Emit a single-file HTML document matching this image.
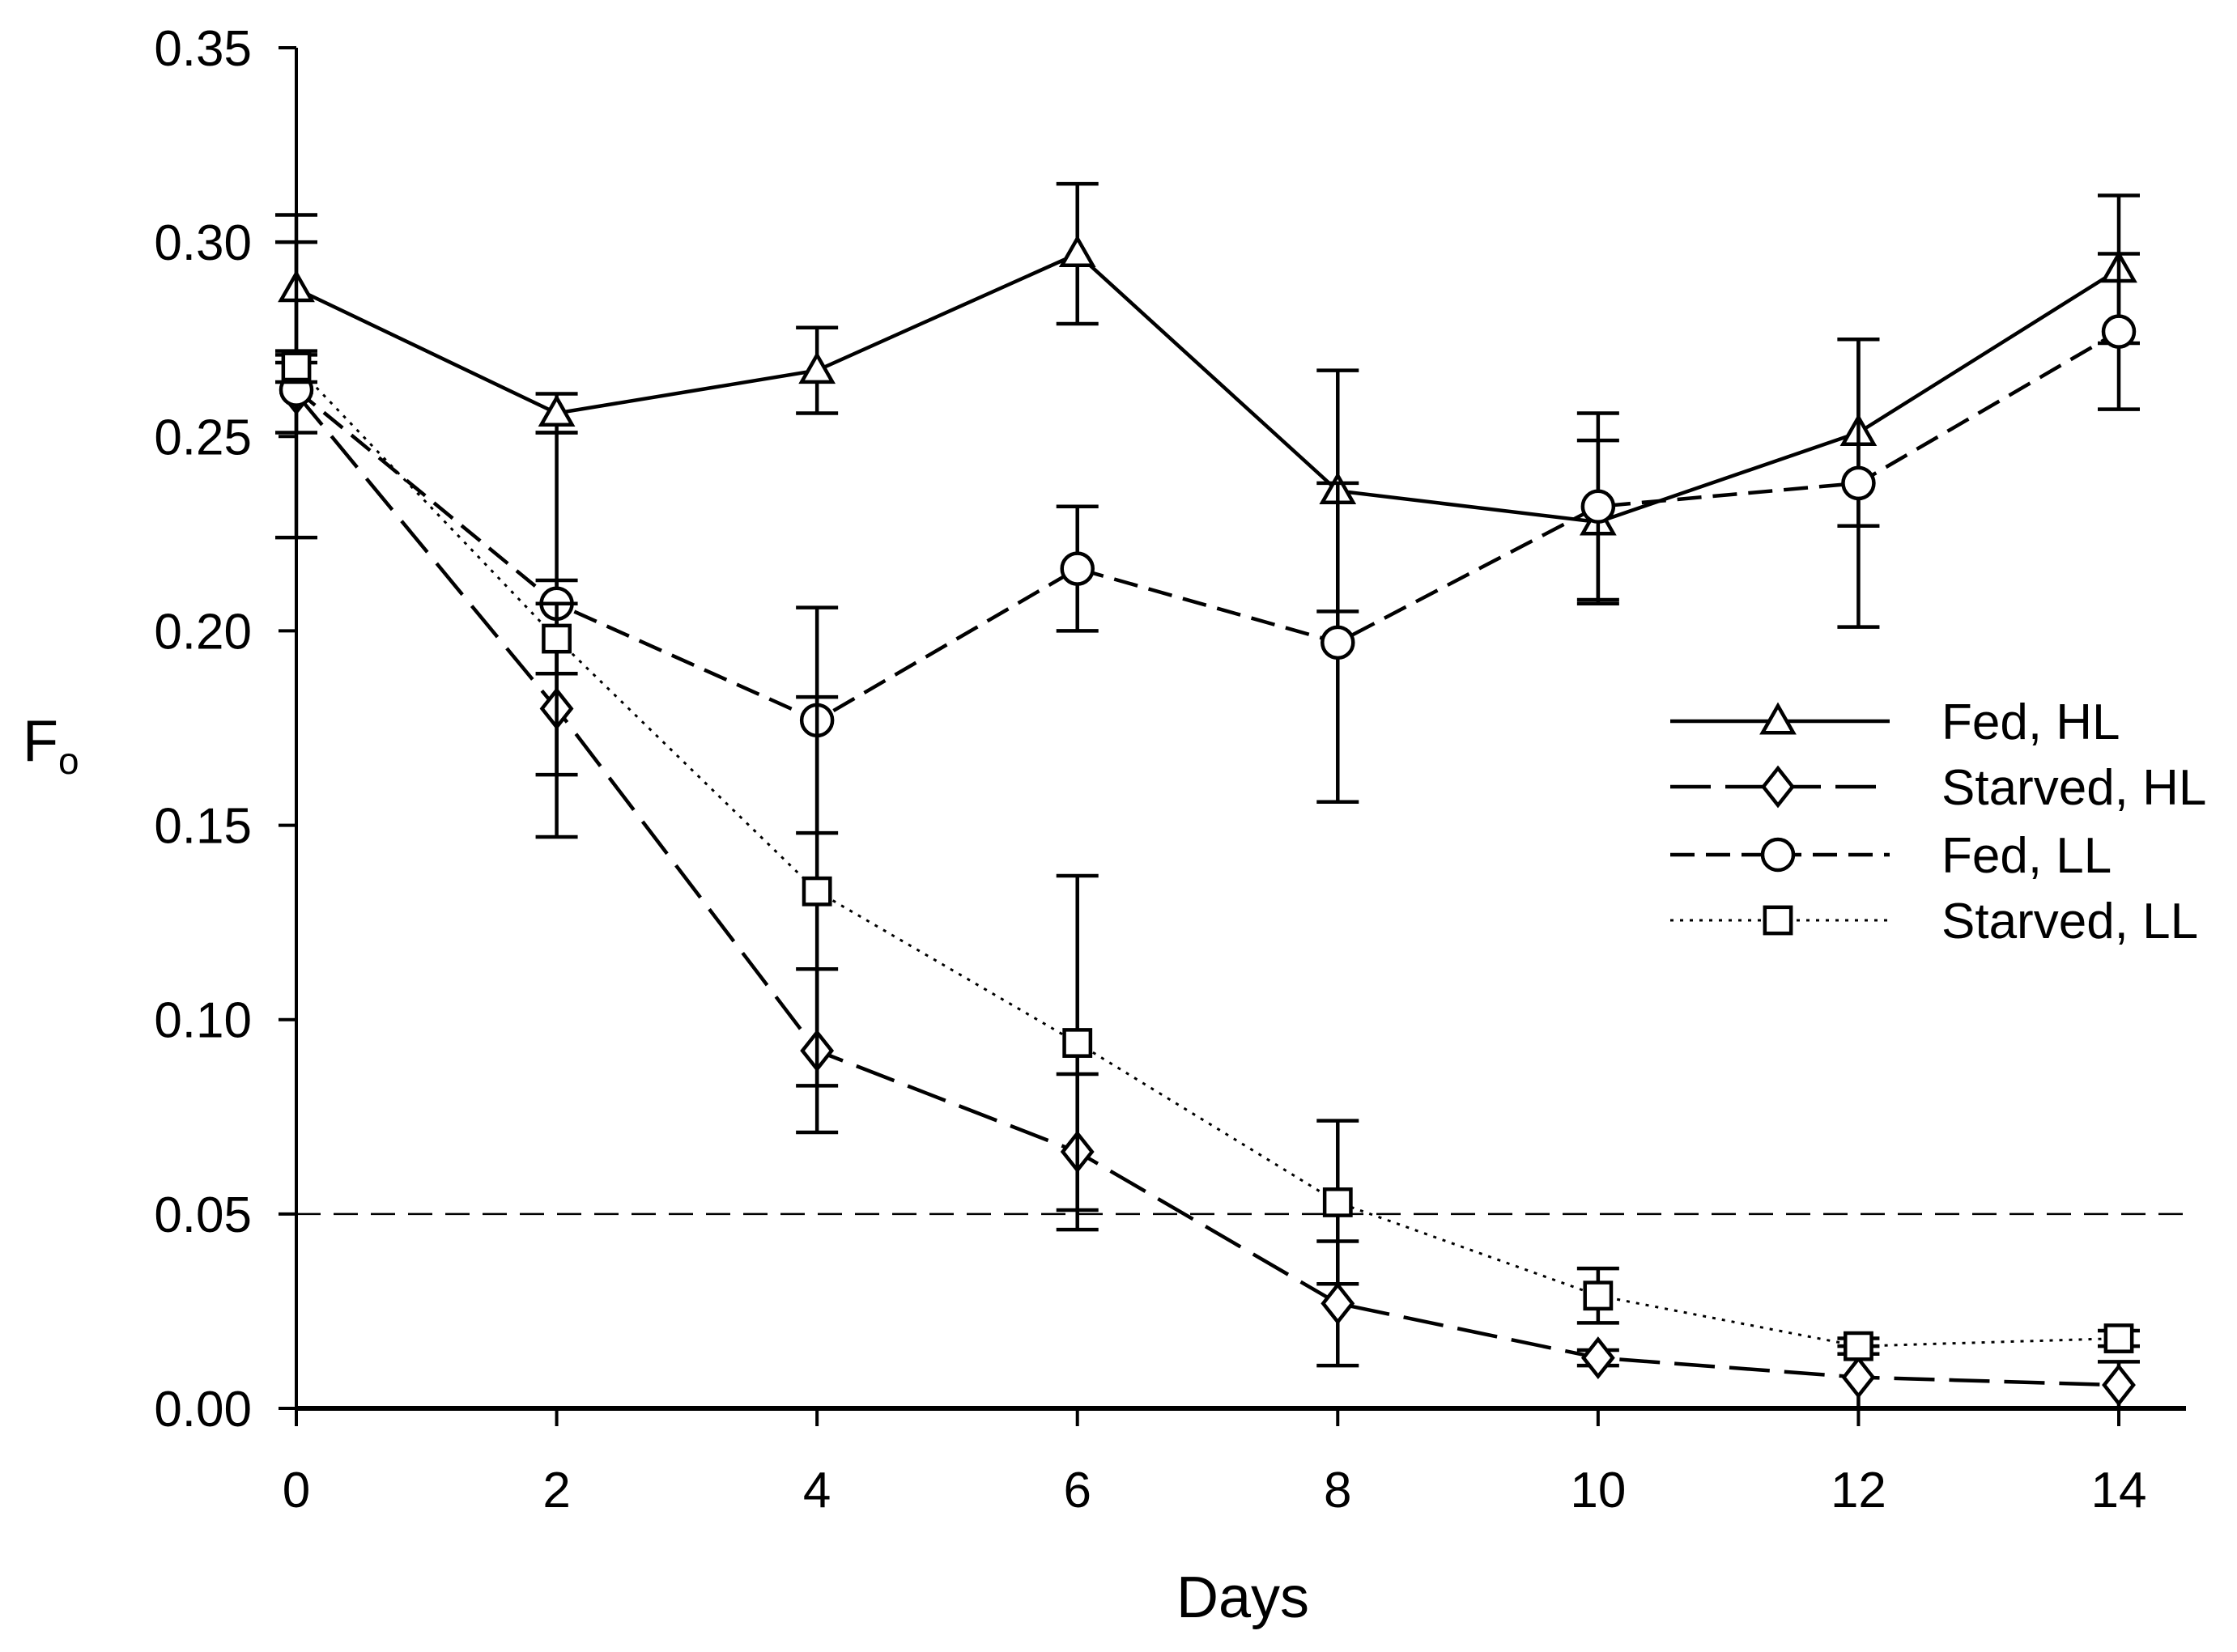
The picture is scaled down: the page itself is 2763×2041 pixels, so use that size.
<!DOCTYPE html>
<html><head><meta charset="utf-8"><style>
html,body{margin:0;padding:0;background:#fff;}
svg{display:block;font-family:"Liberation Sans",Arial,sans-serif;}
</style></head><body>
<svg id="chart" width="2763" height="2041" viewBox="0 0 2763 2041" xmlns="http://www.w3.org/2000/svg">
<g id="axes"></g>
<g id="series"></g>
<g id="legend"></g>
</svg>
<script>
const days = [0,2,4,6,8,10,12,14];
const xTicks = [0,2,4,6,8,10,12,14];
const yTicks = [0,0.05,0.10,0.15,0.20,0.25,0.30,0.35];
const yTickLabels = ["0.00","0.05","0.10","0.15","0.20","0.25","0.30","0.35"];
const fedHL = [0.288,0.256,0.267,0.297,0.236,0.228,0.251,0.293];
const fedHLErr = [0.019,0.005,0.011,0.018,0.031,0.021,0.024,0.019];
const starvedHL = [0.261,0.180,0.092,0.066,0.027,0.013,0.008,0.006];
const starvedHLErr = [0.010,0.033,0.021,0.020,0.016,0.002,0.008,0.006];
const fedLL = [0.262,0.207,0.177,0.216,0.197,0.232,0.238,0.277];
const fedLLErr = [0.038,0.044,0.029,0.016,0.041,0.024,0.037,0.020];
const starvedLL = [0.268,0.198,0.133,0.094,0.053,0.029,0.016,0.018];
const starvedLLErr = [0.004,0.009,0.050,0.043,0.021,0.007,0.002,0.002];
const refLine = 0.05;

const NS="http://www.w3.org/2000/svg";
const X0=366,X1=2617,Y0=1740,Y1=59;
const xs=d=>X0+(d-0)*(X1-X0)/14;
const ys=v=>Y0-(v-0)*(Y0-Y1)/0.35;
function mk(tag,attrs,parent){const e=document.createElementNS(NS,tag);for(const k in attrs)e.setAttribute(k,attrs[k]);parent.appendChild(e);return e;}
const axes=document.getElementById('axes'),ser=document.getElementById('series'),leg=document.getElementById('legend');

let el=mk('line',{x1:X0,y1:Y0,x2:X0,y2:Y1,stroke:'#000','stroke-width':4},axes);


el=mk('line',{x1:X0-2,y1:Y0,x2:2700,y2:Y0,stroke:'#000','stroke-width':6},axes);


yTicks.forEach((t,i)=>{
  let tk=mk('line',{x1:X0-22,y1:ys(t),x2:X0,y2:ys(t),stroke:'#000','stroke-width':4},axes);
  
  
  let tx=mk('text',{x:X0-55,y:ys(t)+22,'font-size':62,'text-anchor':'end'},axes);
  tx.textContent=yTickLabels[i];
  
  
});
xTicks.forEach(t=>{
  let tk=mk('line',{x1:xs(t),y1:Y0,x2:xs(t),y2:Y0+22,stroke:'#000','stroke-width':4},axes);
  
  
  let tx=mk('text',{x:xs(t),y:1862,'font-size':62,'text-anchor':'middle'},axes);
  tx.textContent=String(t);
  
  
});
el=mk('text',{x:1535,y:1998,'font-size':72,'text-anchor':'middle'},axes);
el.textContent='Days';


el=mk('text',{x:28,y:940,'font-size':72},axes);
el.innerHTML='F<tspan font-size="46" dy="16">o</tspan>';


el=mk('line',{x1:X0,y1:ys(refLine),x2:2700,y2:ys(refLine),stroke:'#000','stroke-width':2.5,'stroke-dasharray':'30,16'},axes);



function marker(type,x,y,g){
  const s=19;let m;
  if(type==='tri')m=mk('polygon',{points:`${x},${y-s} ${x-s},${y+s*0.75} ${x+s},${y+s*0.75}`},g);
  else if(type==='dia')m=mk('polygon',{points:`${x},${y-s*1.2} ${x+s*0.95},${y} ${x},${y+s*1.2} ${x-s*0.95},${y}`},g);
  else if(type==='circ')m=mk('circle',{cx:x,cy:y,r:s},g);
  else m=mk('rect',{x:x-s*0.85,y:y-s*0.85,width:s*1.7,height:s*1.7},g);
  m.setAttribute('fill','#fff');m.setAttribute('stroke','#000');m.setAttribute('stroke-width',4.5);
  return m;
}
const series=[
 {name:'fed-hl',vals:fedHL,err:fedHLErr,m:'tri',dash:'',label:'Fed, HL'},
 {name:'starved-hl',vals:starvedHL,err:starvedHLErr,m:'dia',dash:'50,18',label:'Starved, HL'},
 {name:'fed-ll',vals:fedLL,err:fedLLErr,m:'circ',dash:'30,14',label:'Fed, LL'},
 {name:'starved-ll',vals:starvedLL,err:starvedLLErr,m:'sq',dash:'4,8',label:'Starved, LL'}
];
series.forEach(s=>{
  const g=mk('g',{},ser);
  
  
  s.vals.forEach((v,i)=>{
    const x=xs(days[i]),hi=ys(v+s.err[i]),lo=ys(Math.max(0,v-s.err[i]));
    let e=mk('path',{d:`M${x},${hi}V${lo}M${x-26},${hi}H${x+26}M${x-26},${lo}H${x+26}`,stroke:'#000','stroke-width':4.5,fill:'none'},g);
    
    
  });
  let l=mk('polyline',{points:s.vals.map((v,i)=>xs(days[i])+','+ys(v)).join(' '),fill:'none',stroke:'#000','stroke-width':s.m==='sq'?3:4.5,'stroke-dasharray':s.dash},g);
  
  
  s.vals.forEach((v,i)=>{
    let m=marker(s.m,xs(days[i]),ys(v),g);
    
    
  });
});
const legY=[891,972,1056,1137];
series.forEach((s,i)=>{
  const g=mk('g',{},leg);
  
  
  mk('line',{x1:2063,y1:legY[i],x2:2334,y2:legY[i],stroke:'#000','stroke-width':s.m==='sq'?3:4.5,'stroke-dasharray':s.dash},g);
  marker(s.m,2196,legY[i],g);
  const t=mk('text',{x:2398,y:legY[i]+22,'font-size':62},g);
  t.textContent=s.label;
});
</script>
</body></html>
